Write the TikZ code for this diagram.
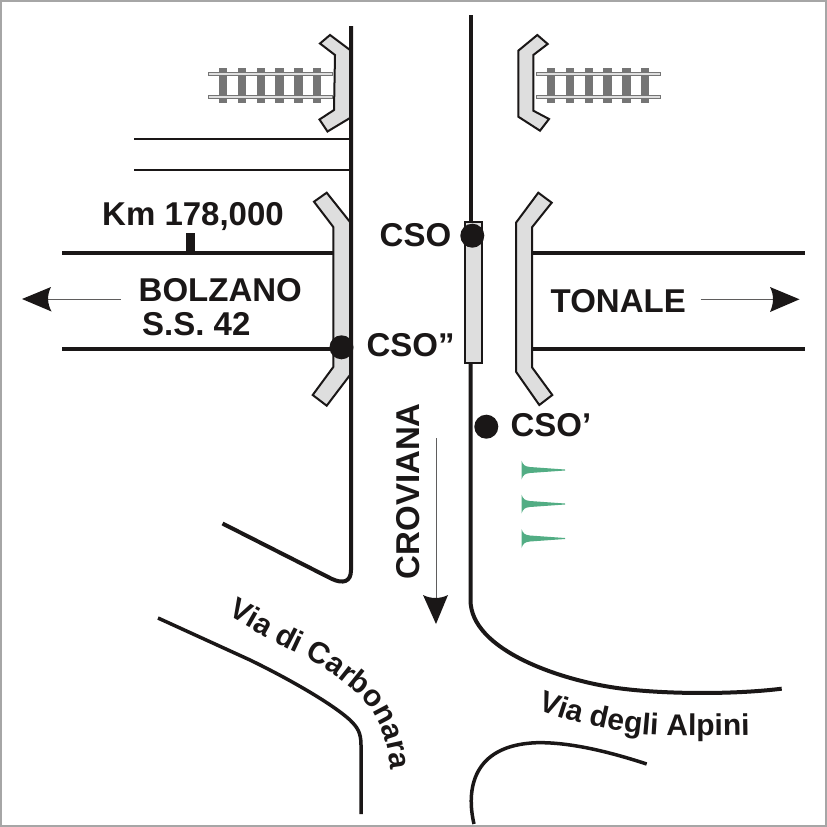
\documentclass[tikz,border=0pt]{standalone}
\usepackage{fontspec}
\setmainfont{Liberation Sans}
\usetikzlibrary{decorations.text}
\definecolor{ink}{HTML}{1A1717}
\definecolor{fillgray}{HTML}{DEDEDE}
\definecolor{railgray}{HTML}{757575}
\definecolor{tealg}{HTML}{52AD84}
\tikzset{
  road/.style={draw=ink,line width=4pt,line cap=butt},
  curveroad/.style={draw=ink,line width=3.5pt,line cap=butt,line join=round},
  thinroad/.style={draw=ink,line width=1.8pt},
  island/.style={draw=ink,fill=fillgray,line width=2pt,line join=miter},
  lab/.style={font=\bfseries\fontsize{33}{34}\selectfont,text=ink,inner sep=0pt,anchor=base west},
  dot/.style={circle,fill=ink,minimum size=24pt,inner sep=0pt},
  arrowline/.style={draw=ink!70,line width=0.8pt},
  tip/.style={fill=ink,draw=none},
  tree/.style={fill=tealg,draw=none}
}
\newcommand{\railtrack}[3]{%
  \begin{scope}[shift={(#1,0)}]
    \foreach \t in {0,18.8,37.6,56.4,75.2,94}
      \fill[railgray] (\t,67.5) rectangle +(8.4,35.5);
    \foreach \r in {72.2,95.5}
      \draw[draw=railgray,fill=fillgray,line width=1pt] (#2,\r) rectangle (#3,\r+3);
  \end{scope}}
\begin{document}
\begin{tikzpicture}[x=1pt,y=-1pt]
\useasboundingbox (0,0) rectangle (827,827);
\fill[white] (0,0) rectangle (827,827);
\draw[draw=gray!70,line width=2pt] (1,1) rectangle (826,826);

% railway tracks
\railtrack{219}{-11}{113}
\railtrack{547}{-11}{113}

% horizontal roads
\draw[thinroad] (134,139) -- (350,139);
\draw[thinroad] (134,170) -- (350,170);
\draw[road] (62,253) -- (335,253);
\draw[road] (62,349.3) -- (335,349.3);
\draw[road] (532,253) -- (804.5,253);
\draw[road] (532,349.3) -- (804.5,349.3);
\fill[ink] (185.5,233) rectangle (195,253);

% left islands
\path[island] (350,50) -- (330,35) -- (320,43.5) -- (335,55) -- (334,110) -- (319.5,119.5) -- (327.5,131.5) -- (350,118) -- cycle;
\path[island] (350,222) -- (326.7,192.7) -- (314,201.7) -- (333.3,227) -- (333.3,367) -- (312.7,395) -- (326.7,405.7) -- (350,375) -- cycle;

% right islands
\path[island] (518.3,50.7) -- (537.3,35) -- (547.7,44) -- (533.3,55) -- (533.3,110.7) -- (549,119) -- (540,130.7) -- (518.3,116.7) -- cycle;
\path[island] (516,222.7) -- (538.3,192.7) -- (551.7,202.7) -- (532,227.3) -- (532,367.3) -- (552.3,395) -- (539.3,405) -- (516,371.7) -- cycle;

% centre island
\path[island] (465,222) rectangle (481.7,362.7);

% edge lines
\draw[road] (351,26) -- (351,570) .. controls (351,582) and (343,584) .. (332,579) -- (222.5,523.5);
\draw[road] (470.5,15) -- (470.5,222);
\draw[road] (470.5,363) -- (470.5,600) .. controls (470.5,650) and (560,680) .. (617,688) .. controls (660,694) and (730,695) .. (781.7,688.7);
\draw[curveroad] (158,618) -- (250,660) .. controls (285,677) and (330,702) .. (350,720) .. controls (357,727) and (361,732) .. (361,745) -- (361,814);
\draw[curveroad] (474,824) .. controls (466,790) and (472,745) .. (536.7,742.7) .. controls (570,742) and (610,752) .. (646.7,764);

% dots
\node[dot] (cso) at (472.3,235.7) {};
\node[dot] (csob) at (341.5,347.3) {};
\node[dot] (csoa) at (486.3,426.7) {};

% trees
\foreach \y in {470,504,538.5}
  \path[tree] (521.5,\y-9.5) .. controls (523,\y-5) and (525,\y-3.5) .. (530,\y-3) -- (565,\y-.5) -- (565,\y+.5) -- (530,\y+3) .. controls (525,\y+3.5) and (523,\y+5) .. (521.5,\y+9.5) -- cycle;

% direction arrows
\coordinate (bzs) at (120.5,299);
\coordinate (bze) at (48,299);
\draw[arrowline] (bzs) -- (bze);
\path[tip] (22,299) -- (51,287) .. controls (47,295) and (47,303) .. (51.5,311.5) -- cycle;
\coordinate (tns) at (700.5,299.3);
\coordinate (tne) at (775,299.3);
\draw[arrowline] (tns) -- (tne);
\path[tip] (799.5,299.3) -- (770,287) .. controls (774,295) and (774,303) .. (770,312) -- cycle;
\coordinate (crs) at (436,438);
\coordinate (cre) at (436,598);
\draw[arrowline] (crs) -- (cre);
\path[tip] (436,624) -- (423,595) .. controls (431,599) and (440,599) .. (448,595) -- cycle;

% labels
\node[lab] (km) at (102,225) {Km 178,000};
\node[lab] (bz) at (138.5,301) {BOLZANO};
\node[lab] (ss) at (142,335) {S.S. 42};
\node[lab] (tn) at (550.5,312.7) {TONALE};
\node[lab] (l1) at (379.5,246.7) {CSO};
\node[lab] (l2) at (366.3,356.7) {CSO”};
\node[lab] (l3) at (510.3,436.7) {CSO’};
\node[lab,rotate=90] (cr) at (419,579.5) {CROVIANA};
\path[decorate,decoration={text along path,raise=0pt,text={|\color{ink}\bfseries\fontsize{30}{31}\selectfont|Via di Carbonara}}]
  (227,615) .. controls (248,627) and (270,640) .. (290,650) .. controls (312,660) and (332,672) .. (350,688) .. controls (368,702) and (390,722) .. (392,790);
\path[decorate,decoration={text along path,raise=0pt,text={|\color{ink}\bfseries\fontsize{30}{31}\selectfont|Via degli Alpini}}]
  (538,709) .. controls (560,718) and (575,722) .. (590,725) .. controls (615,731) and (640,735) .. (667,735.5) .. controls (695,736) and (720,736) .. (770,735);
\end{tikzpicture}
\end{document}
